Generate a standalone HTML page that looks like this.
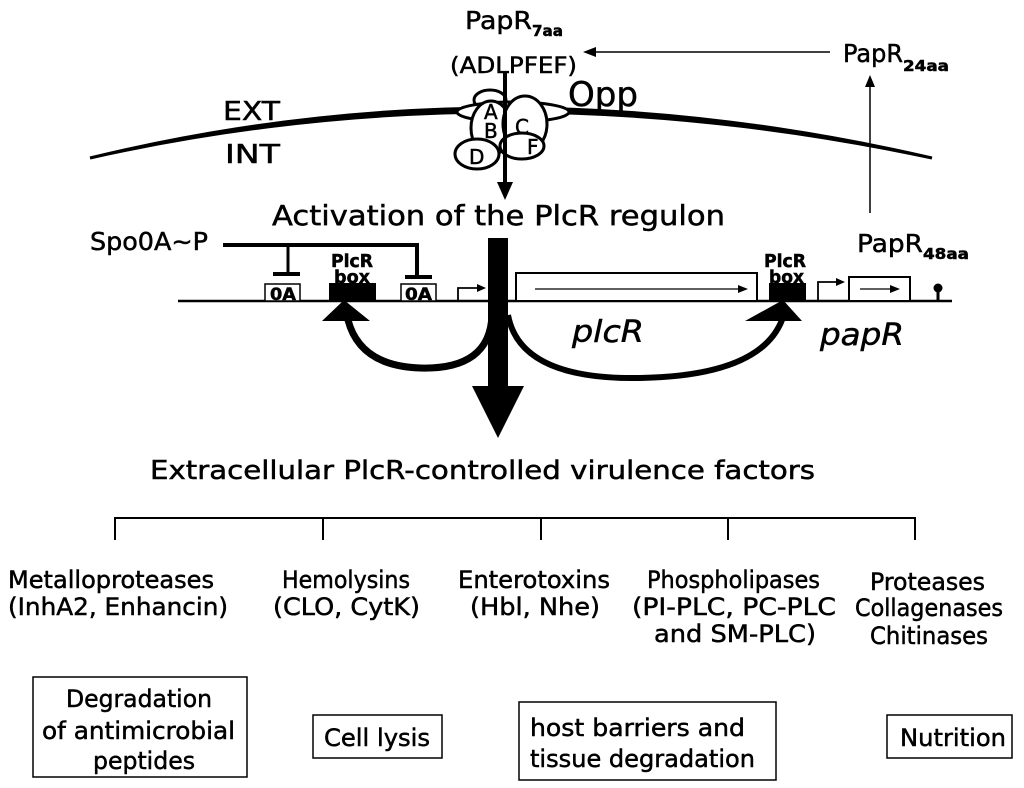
<!DOCTYPE html>
<html><head><meta charset="utf-8"><style>
html,body{margin:0;padding:0;background:#fff;}
svg{display:block}
text{font-family:"DejaVu Sans","Liberation Sans",sans-serif;fill:#000;stroke:#000;stroke-width:0.5}
</style></head><body>
<svg width="1024" height="788" viewBox="0 0 1024 788" xmlns="http://www.w3.org/2000/svg">
<!-- membrane -->
<path d="M90,158 Q500,58 932,158 Q500,66 90,158 Z" fill="#000" stroke="#000" stroke-width="3"/>
<text x="223" y="120" font-size="26" textLength="57" lengthAdjust="spacingAndGlyphs">EXT</text>
<text x="225" y="163" font-size="26" textLength="55" lengthAdjust="spacingAndGlyphs">INT</text>
<!-- PapR7aa -->
<text x="465" y="29" font-size="25" textLength="67" lengthAdjust="spacingAndGlyphs">PapR</text>
<text x="532" y="36" font-size="15" font-weight="bold" textLength="31" lengthAdjust="spacingAndGlyphs">7aa</text>
<text x="450" y="73" font-size="22" textLength="127" lengthAdjust="spacingAndGlyphs">(ADLPFEF)</text>
<!-- top arrow -->
<line x1="830" y1="52" x2="592" y2="52" stroke="#000" stroke-width="1.5"/>
<polygon points="583,52 596,47 596,57" fill="#000"/>
<text x="843" y="62" font-size="25" textLength="60" lengthAdjust="spacingAndGlyphs">PapR</text>
<text x="903" y="71" font-size="15" font-weight="bold" textLength="46" lengthAdjust="spacingAndGlyphs">24aa</text>
<line x1="870" y1="213" x2="870" y2="84" stroke="#000" stroke-width="1.5"/>
<polygon points="870,75 865,87 875,87" fill="#000"/>
<text x="857" y="252" font-size="25" textLength="66" lengthAdjust="spacingAndGlyphs">PapR</text>
<text x="923" y="259" font-size="15" font-weight="bold" textLength="46" lengthAdjust="spacingAndGlyphs">48aa</text>
<!-- Opp -->
<text x="568" y="106" font-size="34" textLength="70" lengthAdjust="spacingAndGlyphs">Opp</text>
<g fill="#fff" stroke="#000" stroke-width="3">
<ellipse cx="490" cy="100" rx="16" ry="10"/>
<ellipse cx="513" cy="112" rx="56" ry="10"/>
<ellipse cx="491" cy="128" rx="20" ry="27"/>
<ellipse cx="525" cy="124" rx="22" ry="28"/>
<ellipse cx="477" cy="154" rx="22" ry="15"/>
<ellipse cx="522" cy="146" rx="22" ry="13"/>
</g>
<g font-size="20">
<text x="484" y="119">A</text>
<text x="484" y="138">B</text>
<text x="515" y="134">C</text>
<text x="469" y="164">D</text>
<text x="527" y="154">F</text>
</g>
<line x1="505" y1="73" x2="505" y2="185" stroke="#000" stroke-width="4"/>
<polygon points="497,182 513,182 505,200" fill="#000"/>
<text x="272" y="225" font-size="28" textLength="453" lengthAdjust="spacingAndGlyphs">Activation of the PlcR regulon</text>
<!-- Spo0A -->
<text x="90" y="250" font-size="25" textLength="118" lengthAdjust="spacingAndGlyphs">Spo0A~P</text>
<path d="M223,245 H417 V275" fill="none" stroke="#000" stroke-width="4"/>
<line x1="288" y1="245" x2="288" y2="272" stroke="#000" stroke-width="3"/>
<line x1="273" y1="274" x2="300" y2="274" stroke="#000" stroke-width="4"/>
<line x1="405" y1="277" x2="432" y2="277" stroke="#000" stroke-width="4"/>
<!-- gene line -->
<line x1="178" y1="301" x2="952" y2="301" stroke="#000" stroke-width="2.5"/>
<rect x="265" y="284" width="35" height="17" fill="#fff" stroke="#000" stroke-width="1.5"/>
<text x="270" y="300" font-size="17" font-weight="bold" textLength="26" lengthAdjust="spacingAndGlyphs">0A</text>
<rect x="401" y="284" width="35" height="17" fill="#fff" stroke="#000" stroke-width="1.5"/>
<text x="405" y="300" font-size="17" font-weight="bold" textLength="27" lengthAdjust="spacingAndGlyphs">0A</text>
<rect x="329" y="283" width="47" height="18" fill="#000"/>
<text x="331" y="267" font-size="18" font-weight="bold" textLength="42" lengthAdjust="spacingAndGlyphs">PlcR</text>
<text x="334" y="283" font-size="18" font-weight="bold" textLength="36" lengthAdjust="spacingAndGlyphs">box</text>
<rect x="769" y="283" width="37" height="18" fill="#000"/>
<text x="764" y="267" font-size="18" font-weight="bold" textLength="42" lengthAdjust="spacingAndGlyphs">PlcR</text>
<text x="769" y="283" font-size="18" font-weight="bold" textLength="35" lengthAdjust="spacingAndGlyphs">box</text>
<!-- promoters -->
<path d="M458,300 V288 H478" fill="none" stroke="#000" stroke-width="1.8"/>
<polygon points="486,288 477,284 477,292" fill="#000"/>
<path d="M818,300 V282 H836" fill="none" stroke="#000" stroke-width="1.8"/>
<polygon points="845,282 836,278 836,286" fill="#000"/>
<!-- plcR box -->
<rect x="516" y="273" width="241" height="28" fill="#fff" stroke="#000" stroke-width="2"/>
<line x1="535" y1="289" x2="740" y2="289" stroke="#000" stroke-width="1.2"/>
<polygon points="748,289 738,285 738,293" fill="#000"/>
<rect x="849" y="277" width="61" height="24" fill="#fff" stroke="#000" stroke-width="2"/>
<line x1="860" y1="289" x2="892" y2="289" stroke="#000" stroke-width="1.2"/>
<polygon points="900,289 890,285 890,293" fill="#000"/>
<line x1="938" y1="301" x2="938" y2="289" stroke="#000" stroke-width="3"/>
<circle cx="938" cy="288" r="4.5" fill="#000"/>
<text x="572" y="342" font-size="30" font-style="italic" textLength="72" lengthAdjust="spacingAndGlyphs">plcR</text>
<text x="820" y="345" font-size="30" font-style="italic" textLength="84" lengthAdjust="spacingAndGlyphs">papR</text>
<!-- curved arrows -->
<path d="M492,315 Q490,370 420,368 Q360,366 348,320" fill="none" stroke="#000" stroke-width="7"/>
<polygon points="322,321 370,321 344,300" fill="#000"/>
<path d="M508,315 Q520,380 640,378 Q760,376 782,320" fill="none" stroke="#000" stroke-width="6"/>
<polygon points="745,321 802,321 783,300" fill="#000"/>
<!-- big vertical -->
<polygon points="488,238 508,238 508,387 488,387" fill="#000"/>
<polygon points="472,386 524,386 498,438" fill="#000"/>
<text x="150" y="479" font-size="26" textLength="665" lengthAdjust="spacingAndGlyphs">Extracellular PlcR-controlled virulence factors</text>
<!-- bracket -->
<path d="M115,540 V518 H915 V540 M323,518 V540 M541,518 V540 M728,518 V540" fill="none" stroke="#000" stroke-width="2"/>
<g font-size="24">
<text x="8" y="588" textLength="206" lengthAdjust="spacingAndGlyphs">Metalloproteases</text>
<text x="8" y="615" textLength="220" lengthAdjust="spacingAndGlyphs">(InhA2, Enhancin)</text>
<text x="282" y="588" textLength="128" lengthAdjust="spacingAndGlyphs">Hemolysins</text>
<text x="273" y="615" textLength="147" lengthAdjust="spacingAndGlyphs">(CLO, CytK)</text>
<text x="458" y="588" textLength="152" lengthAdjust="spacingAndGlyphs">Enterotoxins</text>
<text x="470" y="615" textLength="130" lengthAdjust="spacingAndGlyphs">(Hbl, Nhe)</text>
<text x="647" y="588" textLength="173" lengthAdjust="spacingAndGlyphs">Phospholipases</text>
<text x="632" y="615" textLength="204" lengthAdjust="spacingAndGlyphs">(PI-PLC, PC-PLC</text>
<text x="654" y="642" textLength="162" lengthAdjust="spacingAndGlyphs">and SM-PLC)</text>
<text x="870" y="590" textLength="115" lengthAdjust="spacingAndGlyphs">Proteases</text>
<text x="855" y="616" textLength="148" lengthAdjust="spacingAndGlyphs">Collagenases</text>
<text x="870" y="644" textLength="118" lengthAdjust="spacingAndGlyphs">Chitinases</text>
</g>
<g fill="#fff" stroke="#000" stroke-width="1.5">
<rect x="33" y="677" width="214" height="100"/>
<rect x="313" y="715" width="129" height="43"/>
<rect x="519" y="702" width="257" height="78"/>
<rect x="887" y="715" width="125" height="43"/>
</g>
<g font-size="24">
<text x="66" y="707" textLength="146" lengthAdjust="spacingAndGlyphs">Degradation</text>
<text x="42" y="739" textLength="193" lengthAdjust="spacingAndGlyphs">of antimicrobial</text>
<text x="93" y="769" textLength="102" lengthAdjust="spacingAndGlyphs">peptides</text>
<text x="324" y="746" textLength="106" lengthAdjust="spacingAndGlyphs">Cell lysis</text>
<text x="530" y="736" textLength="215" lengthAdjust="spacingAndGlyphs">host barriers and</text>
<text x="530" y="767" textLength="225" lengthAdjust="spacingAndGlyphs">tissue degradation</text>
<text x="900" y="746" textLength="106" lengthAdjust="spacingAndGlyphs">Nutrition</text>
</g>
</svg>
</body></html>
